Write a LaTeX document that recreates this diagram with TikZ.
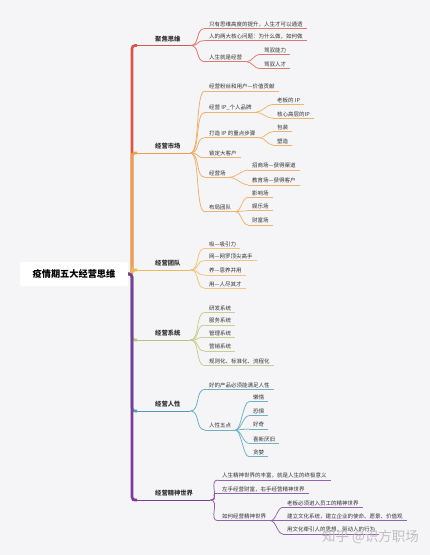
\documentclass[tikz,border=0pt]{standalone}
\usepackage{fontspec}
\newfontfamily\cjk{Noto Sans CJK SC}
\definecolor{bg}{HTML}{F5F5F8}
\definecolor{cA}{HTML}{D4574A}
\definecolor{cB}{HTML}{E8A04E}
\definecolor{cC}{HTML}{EDB75C}
\definecolor{cD}{HTML}{BCC278}
\definecolor{cE}{HTML}{4E9CB8}
\definecolor{cF}{HTML}{7B3C96}
\definecolor{txt}{HTML}{333333}
\newcommand\mmleaf[4]{\node[leaf] (#1) at (#2) {#4};
  \draw[uline,#3!80!white] (#1.south west) -- (#1.south east);}
\newcommand\mmlink[3]{\draw[linkline,#3!85!white] (#1.south east) .. controls +(10,0) and +(-10,0) .. (#2.south west);}
\newcommand\mmsub[3]{\draw[linkline,#3!80!white] (#1.south east) .. controls +(6,0) and +(-6,0) .. (#2.south west);}
\newcommand\mmtrunk[2]{\draw[trunkline,#1] (root.east) -- (tr) -- (tr |- #2.south) -- +(5,0);
  \draw[branchline,#1] (tr |- #2.south) -- (#2.south east);}
\begin{document}
\begin{tikzpicture}[x=1pt,y=-1pt,
  rootbox/.style={fill=white, rounded corners=2pt, minimum width=108pt, minimum height=24pt,
    font=\cjk\bfseries\fontsize{9.2}{11}\selectfont, text=black, inner sep=0pt},
  branch/.style={anchor=south west, inner xsep=5pt, inner ysep=3.5pt, align=left,
    font=\cjk\bfseries\fontsize{6.3}{7.5}\selectfont, text=txt},
  leaf/.style={anchor=south west, inner xsep=4pt, inner ysep=1.4pt,
    font=\cjk\fontsize{5.5}{6.5}\selectfont, text=txt},
  trunkline/.style={line width=2.6pt, rounded corners=3pt},
  branchline/.style={line width=1pt},
  linkline/.style={line width=0.75pt},
  uline/.style={line width=0.7pt}]
\fill[bg] (0,0) rectangle (430,555);
\useasboundingbox (0,0) rectangle (430,555);

\node[rootbox] (root) at (74,274) {疫情期五大经营思维};
\coordinate (tr) at (132,274);

% branch nodes
\node[branch,text width=30pt] (b1) at (150,45.5) {聚焦思维};
\node[branch,text width=30pt] (b2) at (150,153) {经营市场};
\node[branch,text width=30pt] (b3) at (150,270) {经营团队};
\node[branch,text width=30pt] (b4) at (150,340) {经营系统};
\node[branch,text width=30pt] (b5) at (150,411) {经营人性};
\node[branch,text width=50pt] (b6) at (150,500) {经营精神世界};

\mmtrunk{cA}{b1}
\mmtrunk{cB}{b2}
\mmtrunk{cC}{b3}
\mmtrunk{cD}{b4}
\mmtrunk{cE}{b5}
\mmtrunk{cF}{b6}

% branch 1
\mmleaf{c11}{205,28.5}{cA}{只有思维高度的提升，人生才可以通透}
\mmleaf{c12}{205,40.7}{cA}{人的两大核心问题：为什么做，如何做}
\mmleaf{c13}{205,61.7}{cA}{人生就是经营}
\mmleaf{g131}{260,54.3}{cA}{驾驭能力}
\mmleaf{g132}{260,68.7}{cA}{驾驭人才}
\mmlink{b1}{c11}{cA}
\mmlink{b1}{c12}{cA}
\mmlink{b1}{c13}{cA}
\mmsub{c13}{g131}{cA}
\mmsub{c13}{g132}{cA}

% branch 2
\mmleaf{c21}{205,91}{cB}{经营粉丝和用户—价值贡献}
\mmleaf{c22}{205,112.3}{cB}{经营 IP\_个人品牌}
\mmleaf{g221}{273,104.3}{cB}{老板的 IP}
\mmleaf{g222}{273,118.3}{cB}{核心高层的IP}
\mmleaf{c23}{205,137.7}{cB}{打造 IP 的重点步骤}
\mmleaf{g231}{273,131.7}{cB}{包装}
\mmleaf{g232}{273,145}{cB}{塑造}
\mmleaf{c24}{205,157.7}{cB}{锁定大客户}
\mmleaf{c25}{205,177.3}{cB}{经营场}
\mmleaf{g251}{248,170}{cB}{招商场—获得渠道}
\mmleaf{g252}{248,185}{cB}{教育场—获得客户}
\mmleaf{c26}{205,211.7}{cB}{布局团队}
\mmleaf{g261}{248,197.3}{cB}{影响场}
\mmleaf{g262}{248,210.7}{cB}{娱乐场}
\mmleaf{g263}{248,225}{cB}{财富场}
\mmlink{b2}{c21}{cB}
\mmlink{b2}{c22}{cB}
\mmlink{b2}{c23}{cB}
\mmlink{b2}{c24}{cB}
\mmlink{b2}{c25}{cB}
\mmlink{b2}{c26}{cB}
\mmsub{c22}{g221}{cB}
\mmsub{c22}{g222}{cB}
\mmsub{c23}{g231}{cB}
\mmsub{c23}{g232}{cB}
\mmsub{c25}{g251}{cB}
\mmsub{c25}{g252}{cB}
\mmsub{c26}{g261}{cB}
\mmsub{c26}{g262}{cB}
\mmsub{c26}{g263}{cB}

% branch 3
\mmleaf{c31}{205,248.3}{cC}{吸—吸引力}
\mmleaf{c32}{205,260.7}{cC}{网—网罗顶尖高手}
\mmleaf{c33}{205,275}{cC}{养—恩养并用}
\mmleaf{c34}{205,288.3}{cC}{用—人尽其才}
\mmlink{b3}{c31}{cC}
\mmlink{b3}{c32}{cC}
\mmlink{b3}{c33}{cC}
\mmlink{b3}{c34}{cC}

% branch 4
\mmleaf{c41}{205,312.3}{cD}{研发系统}
\mmleaf{c42}{205,325}{cD}{服务系统}
\mmleaf{c43}{205,337.3}{cD}{管理系统}
\mmleaf{c44}{205,351}{cD}{营销系统}
\mmleaf{c45}{205,365.7}{cD}{规则化、标准化、流程化}
\mmlink{b4}{c41}{cD}
\mmlink{b4}{c42}{cD}
\mmlink{b4}{c43}{cD}
\mmlink{b4}{c44}{cD}
\mmlink{b4}{c45}{cD}

% branch 5
\mmleaf{c51}{205,389.3}{cE}{好的产品必须能满足人性}
\mmleaf{c52}{205,430}{cE}{人性五点}
\mmleaf{g521}{249,401.7}{cE}{懒惰}
\mmleaf{g522}{249,415.7}{cE}{恐惧}
\mmleaf{g523}{249,429}{cE}{好奇}
\mmleaf{g524}{249,443.3}{cE}{喜新厌旧}
\mmleaf{g525}{249,456.7}{cE}{贪婪}
\mmlink{b5}{c51}{cE}
\mmlink{b5}{c52}{cE}
\mmsub{c52}{g521}{cE}
\mmsub{c52}{g522}{cE}
\mmsub{c52}{g523}{cE}
\mmsub{c52}{g524}{cE}
\mmsub{c52}{g525}{cE}

% branch 6
\mmleaf{c61}{218,480}{cF}{人生精神世界的丰富，就是人生的终极意义}
\mmleaf{c62}{218,493.3}{cF}{左手经营财富，右手经营精神世界}
\mmleaf{c63}{218,520.7}{cF}{如何经营精神世界}
\mmleaf{g631}{283,507.3}{cF}{老板必须进入员工的精神世界}
\mmleaf{g632}{283,520.7}{cF}{建立文化系统，建立企业的使命、愿景、价值观}
\mmleaf{g633}{283,534}{cF}{用文化牵引人的思想，驱动人的行为}
\mmlink{b6}{c61}{cF}
\mmlink{b6}{c62}{cF}
\mmlink{b6}{c63}{cF}
\mmsub{c63}{g631}{cF}
\mmsub{c63}{g632}{cF}
\mmsub{c63}{g633}{cF}

% watermark
\node[anchor=west, inner sep=0pt, font=\cjk\fontsize{13.5}{15}\selectfont, text=black!25] (wm) at (322,537) {知乎 @识方职场};
\end{tikzpicture}
\end{document}
